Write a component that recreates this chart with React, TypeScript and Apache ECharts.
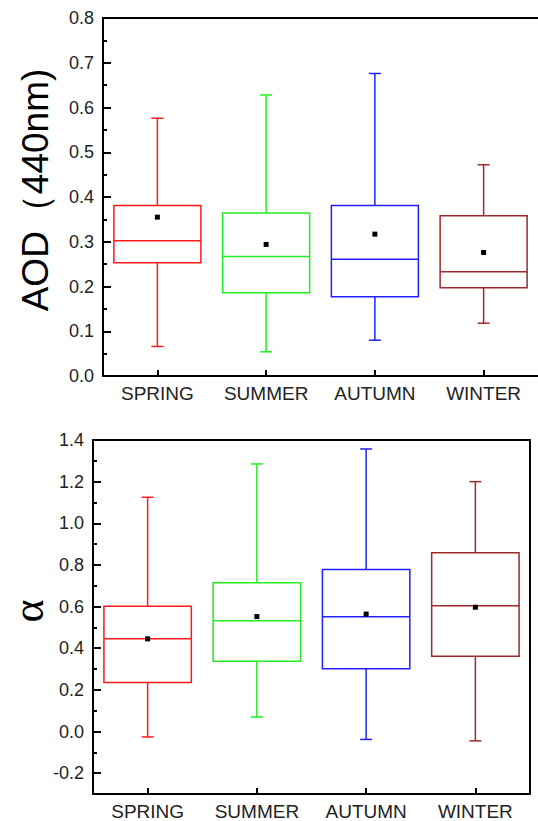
import React, { useEffect, useRef } from 'react';
import * as echarts from 'echarts';

const seasons = ['SPRING', 'SUMMER', 'AUTUMN', 'WINTER'];
const seasonColors = ['#ff1a1a', '#22ee22', '#2020ff', '#9e2a2a'];

// AOD (440nm) box statistics
const aodMin = [0.066, 0.054, 0.080, 0.118];
const aodQ1 = [0.253, 0.186, 0.177, 0.197];
const aodMedian = [0.302, 0.267, 0.261, 0.233];
const aodQ3 = [0.381, 0.364, 0.381, 0.358];
const aodMax = [0.576, 0.628, 0.676, 0.472];
const aodMean = [0.355, 0.294, 0.317, 0.276];

// Angstrom exponent (alpha) box statistics
const alphaMin = [-0.026, 0.070, -0.038, -0.045];
const alphaQ1 = [0.236, 0.337, 0.302, 0.362];
const alphaMedian = [0.446, 0.532, 0.551, 0.604];
const alphaQ3 = [0.602, 0.714, 0.778, 0.858];
const alphaMax = [1.125, 1.285, 1.357, 1.200];
const alphaMean = [0.445, 0.552, 0.564, 0.597];

const aodTicks = [0, 0.1, 0.2, 0.3, 0.4, 0.5, 0.6, 0.7, 0.8];
const alphaMajorTicks = [-0.2, 0, 0.2, 0.4, 0.6, 0.8, 1.0, 1.2, 1.4];
const alphaMinorTicks = [-0.1, 0.1, 0.3, 0.5, 0.7, 0.9, 1.1, 1.3];

const FONT = '"Liberation Sans", Arial, sans-serif';

function buildRows(mn: number[], q1: number[], md: number[], q3: number[], mx: number[], mean: number[]) {
  return seasons.map((_, i) => [i, mn[i], q1[i], md[i], q3[i], mx[i], mean[i]]);
}

function renderBox(params: any, api: any) {
  const i = api.value(0);
  const color = seasonColors[i];
  const x = api.coord([i, 0])[0];
  const yMin = api.coord([i, api.value(1)])[1];
  const yQ1 = api.coord([i, api.value(2)])[1];
  const yMed = api.coord([i, api.value(3)])[1];
  const yQ3 = api.coord([i, api.value(4)])[1];
  const yMax = api.coord([i, api.value(5)])[1];
  const yMean = api.coord([i, api.value(6)])[1];
  const band = api.size([1, 0])[0];
  const bw = band * 0.8;
  const cap = 6;
  const ls = { stroke: color, lineWidth: 1.5, fill: 'none' };
  return {
    type: 'group',
    children: [
      { type: 'line', shape: { x1: x, y1: yQ3, x2: x, y2: yMax }, style: ls },
      { type: 'line', shape: { x1: x, y1: yQ1, x2: x, y2: yMin }, style: ls },
      { type: 'line', shape: { x1: x - cap, y1: yMax, x2: x + cap, y2: yMax }, style: ls },
      { type: 'line', shape: { x1: x - cap, y1: yMin, x2: x + cap, y2: yMin }, style: ls },
      { type: 'rect', shape: { x: x - bw / 2, y: yQ3, width: bw, height: yQ1 - yQ3 }, style: ls },
      { type: 'line', shape: { x1: x - bw / 2, y1: yMed, x2: x + bw / 2, y2: yMed }, style: ls },
      { type: 'rect', shape: { x: x - 2.5, y: yMean - 2.5, width: 5, height: 5 }, style: { fill: '#000' } },
    ],
  };
}

const axisLineStyle = { color: '#000', width: 2 };

export default function App() {
  const ref = useRef<HTMLDivElement>(null);
  useEffect(() => {
    if (!ref.current) return;
    const chart = echarts.init(ref.current, null, { renderer: 'svg' });
    const xCommon = (gridIndex: number) => ({
      type: 'category',
      data: seasons,
      gridIndex,
      position: 'bottom',
      axisLine: { show: true, onZero: false, lineStyle: axisLineStyle },
      axisTick: { show: true, inside: true, alignWithLabel: true, interval: 0, length: 6, lineStyle: axisLineStyle },
      axisLabel: { color: '#222', fontSize: 19, fontFamily: FONT, margin: 8, interval: 0, hideOverlap: false },
      splitLine: { show: false },
    });
    const xBorder = (gridIndex: number) => ({
      type: 'category',
      data: seasons,
      gridIndex,
      position: 'top',
      axisLine: { show: true, onZero: false, lineStyle: axisLineStyle },
      axisTick: { show: false },
      axisLabel: { show: false },
      splitLine: { show: false },
    });
    const option: any = {
      animation: false,
      backgroundColor: '#fff',
      grid: [
        { left: 103, top: 18, width: 440, height: 358 },
        { left: 93, top: 440, width: 437, height: 354 },
      ],
      xAxis: [xCommon(0), xBorder(0), xCommon(1), xBorder(1)],
      yAxis: [
        {
          type: 'value',
          gridIndex: 0,
          min: 0,
          max: 0.8,
          interval: 0.1,
          axisLine: { show: true, onZero: false, lineStyle: axisLineStyle },
          axisTick: { show: true, inside: true, length: 8, lineStyle: axisLineStyle },
          minorTick: { show: true, splitNumber: 2, length: 4, lineStyle: axisLineStyle },
          axisLabel: {
            color: '#222', fontSize: 18, fontFamily: FONT, margin: 9,
            formatter: (v: number) => v.toFixed(1),
            customValues: aodTicks,
          },
          splitLine: { show: false },
        },
        {
          type: 'value',
          gridIndex: 1,
          min: -0.3,
          max: 1.4,
          axisLine: { show: true, onZero: false, lineStyle: axisLineStyle },
          axisTick: { show: true, inside: true, length: 8, lineStyle: axisLineStyle, customValues: alphaMajorTicks },
          axisLabel: {
            color: '#222', fontSize: 18, fontFamily: FONT, margin: 9,
            formatter: (v: number) => v.toFixed(1),
            customValues: alphaMajorTicks,
          },
          splitLine: { show: false },
        },
        {
          type: 'value',
          gridIndex: 1,
          min: -0.3,
          max: 1.4,
          position: 'left',
          axisLine: { show: false, onZero: false },
          axisTick: { show: true, inside: true, length: 4, lineStyle: axisLineStyle, customValues: alphaMinorTicks },
          axisLabel: { show: false },
          splitLine: { show: false },
        },
        {
          type: 'value',
          gridIndex: 1,
          min: -0.3,
          max: 1.4,
          position: 'right',
          axisLine: { show: true, onZero: false, lineStyle: axisLineStyle },
          axisTick: { show: false },
          axisLabel: { show: false },
          splitLine: { show: false },
        },
      ],
      series: [
        {
          type: 'custom',
          xAxisIndex: 0,
          yAxisIndex: 0,
          renderItem: renderBox,
          encode: { x: 0, y: [1, 2, 3, 4, 5] },
          data: buildRows(aodMin, aodQ1, aodMedian, aodQ3, aodMax, aodMean),
          clip: false,
        },
        {
          type: 'custom',
          xAxisIndex: 2,
          yAxisIndex: 1,
          renderItem: renderBox,
          encode: { x: 0, y: [1, 2, 3, 4, 5] },
          data: buildRows(alphaMin, alphaQ1, alphaMedian, alphaQ3, alphaMax, alphaMean),
          clip: false,
        },
      ],
      graphic: [
        {
          type: 'text',
          x: 35,
          y: 190,
          rotation: Math.PI / 2,
          style: {
            text: 'AOD（440nm)',
            fontSize: 37,
            fontFamily: FONT,
            fill: '#000',
            align: 'center',
            verticalAlign: 'middle',
          },
        },
        {
          type: 'text',
          x: 28,
          y: 611,
          rotation: Math.PI / 2,
          style: {
            text: 'α',
            fontSize: 44,
            fontFamily: '"Liberation Serif", "Times New Roman", serif',
            fill: '#000',
            align: 'center',
            verticalAlign: 'middle',
          },
        },
      ],
    };
    chart.setOption(option);
    return () => chart.dispose();
  }, []);
  return (
    <div
      ref={ref}
      style={{ position: 'absolute', left: 0, top: 0, width: 538, height: 821, overflow: 'hidden' }}
    />
  );
}
